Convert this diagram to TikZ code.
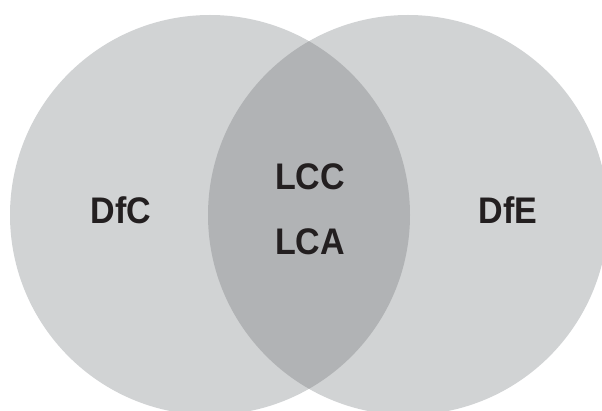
\documentclass[tikz,border=0pt]{standalone}
\usepackage{fontspec}
\setmainfont[FakeStretch=0.92]{Liberation Sans}
\begin{document}
\begin{tikzpicture}[x=1pt,y=1pt,
  setfill/.style={fill=setgray},
  lbl/.style={font=\fontsize{37}{40}\selectfont\bfseries, text=labelink, inner sep=0pt}]
\definecolor{setgray}{HTML}{D1D3D4}
\definecolor{overlapgray}{HTML}{B1B3B5}
\definecolor{labelink}{HTML}{231F20}
\useasboundingbox (0,0) rectangle (602,410);
\clip (0,0) rectangle (602,410);
% the two sets
\fill[setfill] (210,195) circle[radius=200];
\fill[setfill] (408,195) circle[radius=200];
% their common part
\begin{scope}
  \clip (210,195) circle[radius=200];
  \fill[overlapgray] (408,195) circle[radius=200];
\end{scope}
% labels
\node[lbl] (dfc) at (121,200) {DfC};
\node[lbl] (dfe) at (508,200) {DfE};
\node[lbl] (lcc) at (310,233.3) {LCC};
\node[lbl] (lca) at (310,168.5) {LCA};
\end{tikzpicture}
\end{document}
